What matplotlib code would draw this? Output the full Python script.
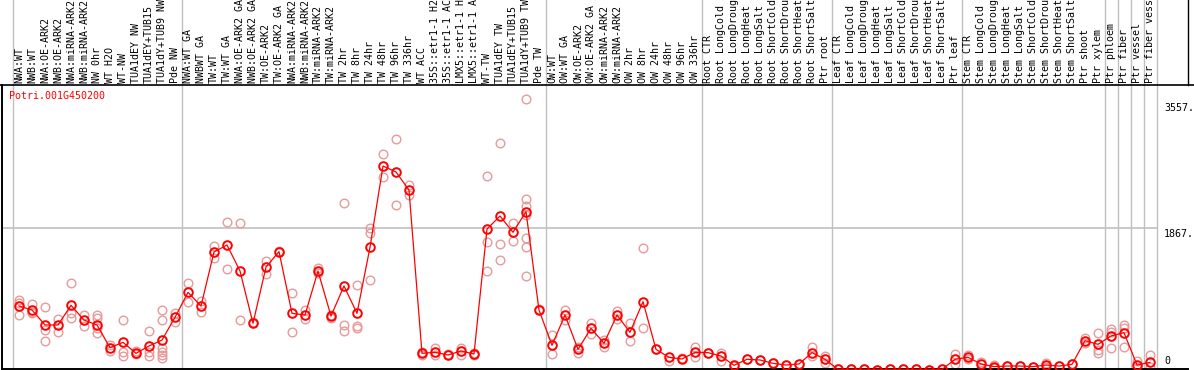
import matplotlib
matplotlib.use("Agg")
import matplotlib.pyplot as plt
from matplotlib.transforms import blended_transform_factory

gene_id = "Potri.001G450200"

labels = [
    "NWA:WT", "NWB:WT", "NWA:OE-ARK2", "NWB:OE-ARK2", "NWA:miRNA-ARK2",
    "NWB:miRNA-ARK2", "NW 0hr", "WT H2O", "WT-NW", "TUA1dEY NW",
    "TUA1dEY+TUB15", "TUA1dY+TUB9 NW", "Pde NW",
    "NWA:WT GA", "NWBWT GA", "TW:WT", "TW:WT GA", "NWA:OE-ARK2 GA",
    "NWB:OE-ARK2 GA", "TW:OE-ARK2", "TW:OE-ARK2 GA", "NWA:miRNA-ARK2",
    "NWB:miRNA-ARK2", "TW:miRNA-ARK2", "TW:miRNA-ARK2", "TW 2hr", "TW 8hr",
    "TW 24hr", "TW 48hr", "TW 96hr", "TW 336hr", "WT ACC", "35S::etr1-1 H2",
    "35S::etr1-1 AC", "LMX5::etr1-1 H", "LMX5::etr1-1 A", "WT-TW",
    "TUA1dEY TW", "TUA1dEY+TUB15", "TUA1dY+TUB9 TW", "Pde TW",
    "OW:WT", "OW:WT GA", "OW:OE-ARK2", "OW:OE-ARK2 GA", "OW:miRNA-ARK2",
    "OW:miRNA-ARK2", "OW 2hr", "OW 8hr", "OW 24hr", "OW 48hr", "OW 96hr",
    "OW 336hr",
    "Root CTR", "Root LongCold", "Root LongDroug", "Root LongHeat",
    "Root LongSalt", "Root ShortCold", "Root ShortDrou", "Root ShortHeat",
    "Root ShortSalt", "Ptr root",
    "Leaf CTR", "Leaf LongCold", "Leaf LongDroug", "Leaf LongHeat",
    "Leaf LongSalt", "Leaf ShortCold", "Leaf ShortDrou", "Leaf ShortHeat",
    "Leaf ShortSalt", "Ptr leaf",
    "Stem CTR", "Stem LongCold", "Stem LongDroug", "Stem LongHeat",
    "Stem LongSalt", "Stem ShortCold", "Stem ShortDrou", "Stem ShortHeat",
    "Stem ShortSalt", "Ptr shoot", "Ptr xylem",
    "Ptr phloem", "Ptr fiber", "Ptr vessel", "Ptr fiber vess",
]

mean_values = [
    850, 798, 602, 602, 859, 667, 602, 305, 375, 231, 327, 405, 702,
    1029, 850, 1557, 1648, 1308, 624, 1360, 1561, 754, 732, 1308, 719, 1112,
    754, 1618, 2681, 2603, 2367, 231, 244, 209, 262, 222, 1857, 2027, 1814,
    2084, 798,
    336, 732, 283, 558, 362, 732, 506, 907, 283, 179, 157, 244,
    240, 196, 74, 153, 144, 100, 78, 92, 240, 153,
    20, 22, 20, 18, 20, 20, 20, 18, 20, 153,
    179, 92, 57, 65, 65, 57, 78, 65, 87, 397, 349,
    458, 501, 78, 113,
]

replicate_values = [
    [929, 894, 732], [872, 754, 776], [833, 536, 397], [680, 514],
    [1147, 754, 689], [732, 589], [732, 689, 558, 493], [340, 266],
    [667, 253, 200], [266, 222], [523, 253, 200],
    [798, 667, 296, 253, 209, 174], [763, 645],
    [1147, 898], [916, 767], [1639, 1482], [1945, 1330], [1931, 667], [645],
    [1439, 1264], [1574], [1016, 506], [798, 676], [1352, 1277], [732, 689],
    [2193, 602, 527], [1125, 589, 558], [1866, 1801, 1190], [2834, 2533],
    [3030, 2171], [2433, 2302], [253, 209], [296, 209], [222], [296, 209],
    [240, 209], [2551, 1692, 1308], [2978, 1657, 1452], [1940, 1705],
    [3557, 2250, 2158, 2040, 1735, 1626, 1243], [807],
    [471, 218], [798, 667], [318, 240], [632, 484], [405, 318], [789, 676],
    [624, 392], [1605, 558], [283], [135], [166], [318, 187],
    [240], [240, 135], [65], [153], [144], [100], [78], [92], [318, 196],
    [196, 100],
    [20], [22], [20], [18], [20], [20], [20], [18], [20], [218, 92],
    [209, 153], [122, 35], [78, 35], [65], [65], [57], [109, 48], [65], [87],
    [427, 362], [493, 275, 240],
    [545, 514, 296], [602, 558, 318], [131, 48], [209, 48],
]

group_breaks = [-0.5, 12.5, 40.5, 52.5, 62.5, 72.5, 83.5, 84.5, 85.5, 86.5, 87.5]
grid_value = 1867
ytick_values = [3557, 1867, 0]
ytick_labels = ["3557.", "1867.", "0"]

W, H = 1194, 370
fig = plt.figure(figsize=(W / 100, H / 100), dpi=100)
ax = fig.add_axes([1.5 / W, 1 / H, (1188 - 1.5) / W, (369 - 85) / H])

# pixel scale of the original chart: column pitch 13 px, ~13.08 units per px
x0_px, pitch = 19, 13
zero_px, units_per_px = 371, 13.08
ax.set_xlim((1.5 - x0_px) / pitch, (1188 - x0_px) / pitch)
ax.set_ylim((zero_px - 369) * units_per_px, (zero_px - 85) * units_per_px)
ax.set_xticks([])
ax.set_yticks([])
for side in ["top", "right"]:
    ax.spines[side].set_visible(False)
for side in ["left", "bottom"]:
    ax.spines[side].set_linewidth(1.4)

mono = "DejaVu Sans Mono"
grey = "#c0c0c0"
pink = "#e89a9a"
xfig = blended_transform_factory(ax.transData, fig.transFigure)

for b in group_breaks:
    ax.plot([b, b], [0, 1], color=grey, lw=1.0, transform=xfig, clip_on=False, zorder=0)
ax.hlines(grid_value, ax.get_xlim()[0], group_breaks[-1], color=grey, lw=1.2, zorder=0)

# header separators
fig.add_artist(plt.Line2D([0, 1], [1 - 85 / H] * 2, color="black", lw=1.2,
                          transform=fig.transFigure))
fig.add_artist(plt.Line2D([1188 / W] * 2, [1 - 85 / H, 1], color="black", lw=1.0,
                          transform=fig.transFigure))

for i, lab in enumerate(labels):
    ax.text(i, 1 - 83 / H, lab, rotation=90, ha="center", va="bottom",
            family=mono, fontsize=7.2, transform=xfig, clip_on=False)

for i, reps in enumerate(replicate_values):
    ax.plot([i] * len(reps), reps, linestyle="none", marker="o", ms=6.2,
            mfc="none", mec=pink, mew=1.0, clip_on=False, zorder=2)

ax.plot(range(len(mean_values)), mean_values, color="red", lw=0.9,
        marker="o", ms=6.2, mfc="none", mec="red", mew=1.4,
        clip_on=False, zorder=3)

ax.text(9 / W, 1 - 96 / H, gene_id, color="red", family=mono, fontsize=7.2,
        ha="left", va="center", transform=fig.transFigure)

tick_x = (1164 - x0_px) / pitch
tick_offsets = [-4, -1, 5]
for val, lab, off in zip(ytick_values, ytick_labels, tick_offsets):
    ax.annotate(lab, xy=(tick_x, val), xytext=(0, off), textcoords="offset pixels",
                ha="left", va="top" if off < 0 else "bottom", family=mono,
                fontsize=7.2, annotation_clip=False)

fig.savefig("out.png", dpi=100)
